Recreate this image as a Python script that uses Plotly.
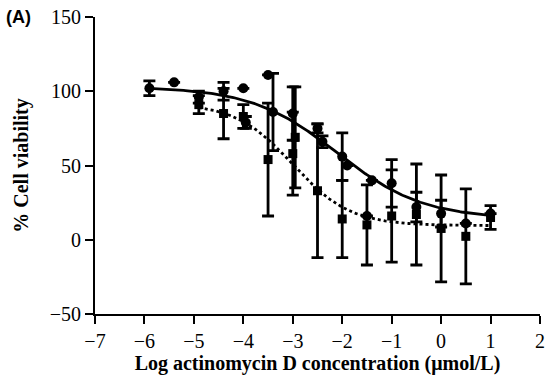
import numpy as np
import plotly.graph_objects as go

# --- data ---
circ_x   = [-5.9, -5.4, -4.9, -4.4, -4.0, -3.95, -3.5, -3.4, -3.0, -2.5, -2.4, -2.0, -1.9, -1.4, -1.5, -1.0, -0.5, 0.0, 0.5, 1.0]
circ_y   = [102, 106, 96, 100, 102, 79, 111, 86, 85, 75, 66, 56, 50, 40, 16, 38, 22, 17.6, 11, 17.6]
circ_err = [5, None, 4, 6, None, 4, None, 26, 18, 3, 4, 16, None, None, None, 16, 10, 9, None, None]

sq_x   = [-4.9, -4.4, -4.0, -3.5, -3.0, -2.95, -2.5, -2.0, -1.5, -1.0, -0.5, 0.0, 0.5, 1.0]
sq_y   = [91, 85, 83, 54, 58, 69, 33, 14, 10, 16, 17, 7.6, 2.3, 15]
sq_err = [6, 17, 8, 38, 28, 34, 45, 26, 27, 31, 34, 36, 32, 8]

# sigmoidal (4-parameter logistic) fit parameters: bottom, top, logIC50, hill
fit_solid  = dict(bottom=14, top=103, logic50=-2.1, hill=0.5, x0=-5.9, x1=1.0)
fit_dotted = dict(bottom=9.5, top=92, logic50=-3.0, hill=0.75, x0=-4.9, x1=1.0)

x_ticks = [-7, -6, -5, -4, -3, -2, -1, 0, 1, 2]
y_ticks = [-50, 0, 50, 100, 150]


def curve(p):
    xs = np.linspace(p["x0"], p["x1"], 200)
    ys = p["bottom"] + (p["top"] - p["bottom"]) / (1 + 10 ** ((xs - p["logic50"]) * p["hill"]))
    return xs, ys


def errs(a):
    return [np.nan if v is None else v for v in a]


fig = go.Figure()

xs, ys = curve(fit_solid)
fig.add_trace(go.Scatter(x=xs, y=ys, mode="lines", line=dict(color="black", width=2.8), hoverinfo="skip"))
xs, ys = curve(fit_dotted)
fig.add_trace(go.Scatter(x=xs, y=ys, mode="lines", line=dict(color="black", width=2.8, dash="dot"), hoverinfo="skip"))

fig.add_trace(go.Scatter(
    x=sq_x, y=sq_y, mode="markers",
    marker=dict(symbol="square", size=9, color="black"),
    error_y=dict(type="data", array=errs(sq_err), visible=True, color="black", thickness=2.8, width=6),
))
fig.add_trace(go.Scatter(
    x=circ_x, y=circ_y, mode="markers",
    marker=dict(symbol="circle", size=10, color="black"),
    error_y=dict(type="data", array=errs(circ_err), visible=True, color="black", thickness=2.8, width=6),
))

serif = "Liberation Serif, Times New Roman, serif"

fig.update_layout(
    width=551, height=388,
    margin=dict(l=95, r=6, t=15, b=74),
    paper_bgcolor="white", plot_bgcolor="white",
    showlegend=False,
    font=dict(family=serif, color="black", size=20),
    xaxis=dict(
        range=[-7, 2], tickmode="array", tickvals=x_ticks,
        ticktext=[("\u2212" + str(-v)) if v < 0 else str(v) for v in x_ticks],
        showline=True, linecolor="black", linewidth=2,
        ticks="outside", ticklen=8, tickwidth=2, tickcolor="black",
        showgrid=False, zeroline=False,
        tickfont=dict(family=serif, size=20),
        title=dict(text="<b>Log actinomycin D concentration (\u03bcmol/L)</b>",
                   font=dict(family=serif, size=20), standoff=5),
    ),
    yaxis=dict(
        range=[-50, 150], tickmode="array", tickvals=y_ticks,
        ticktext=[("\u2212" + str(-v)) if v < 0 else str(v) for v in y_ticks],
        showline=True, linecolor="black", linewidth=2,
        ticks="outside", ticklen=8, tickwidth=2, tickcolor="black",
        showgrid=False, zeroline=False,
        tickfont=dict(family=serif, size=20),
        title=dict(text="<b>% Cell viability</b>", font=dict(family=serif, size=20), standoff=16),
    ),
    annotations=[dict(
        text="<b>(A)</b>", xref="paper", yref="paper", x=-0.205, y=1.0,
        xanchor="left", yanchor="middle", showarrow=False,
        font=dict(family="Liberation Sans, Arial, sans-serif", size=18, color="black"),
    )],
)

fig.write_html("out.html")
